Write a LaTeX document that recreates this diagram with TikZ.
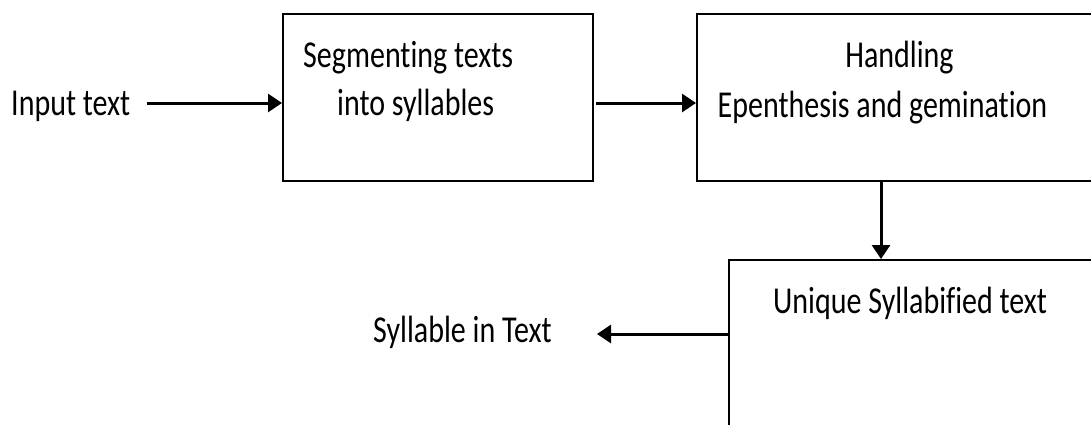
\documentclass[tikz,border=0pt]{standalone}
\usepackage{fontspec}
\setmainfont{Carlito}[FakeStretch=0.79,RawFeature={-liga;-clig;-calt;-dlig}]
\usetikzlibrary{arrows.meta}
% keep t and i as separate glyphs
\newcommand{\tisep}{t\kern0pt i}
\begin{document}
\begin{tikzpicture}[x=1pt,y=-1pt,
  stagebox/.style={draw=black,line width=2pt,rectangle,inner sep=0pt},
  lbl/.style={inner sep=0pt,font=\fontsize{38pt}{46pt}\selectfont},
  flow/.style={line width=3pt,-{Triangle[length=14pt,width=18pt]}}]
  \useasboundingbox (0,0) rectangle (1091,424);
  \clip (0,0) rectangle (1091,424);
  % processing stages
  \node[stagebox,minimum width=310pt,minimum height=167pt] (b1) at (438,97.5) {};
  \node[stagebox,minimum width=413pt,minimum height=167pt] (b2) at (903.5,97.5) {};
  \node[stagebox,minimum width=381pt,minimum height=180pt] (b3) at (919.5,350) {};
  % labels
  \node[lbl,anchor=base west] (intext) at (11,115) {Input text};
  \node[lbl,anchor=base west] (seg1) at (303,67) {Segmen\tisep ng texts};
  \node[lbl,anchor=base west] (seg2) at (337,115) {into syllables};
  \node[lbl,anchor=base] (hand1) at (899.5,67) {Handling};
  \node[lbl,anchor=base] (hand2) at (882.5,117) {Epenthesis and gemina\tisep on};
  \node[lbl,anchor=base west] (uniq) at (773,313) {Unique Syllabified text};
  \node[lbl,anchor=base west] (syl) at (373,342) {Syllable in Text};
  % connector anchors
  \coordinate (instart) at (147,103);
  \coordinate (downx) at (881,0);
  \coordinate (outtip) at (597,334);
  % connectors
  \draw[flow] (instart) -- (instart -| b1.west);
  \draw[flow] ([xshift=2pt]b1.east |- instart) -- (b2.west |- instart);
  \draw[flow] (b2.south -| downx) -- (b3.north -| downx);
  \draw[flow] (b3.west |- outtip) -- (outtip);
\end{tikzpicture}
\end{document}
